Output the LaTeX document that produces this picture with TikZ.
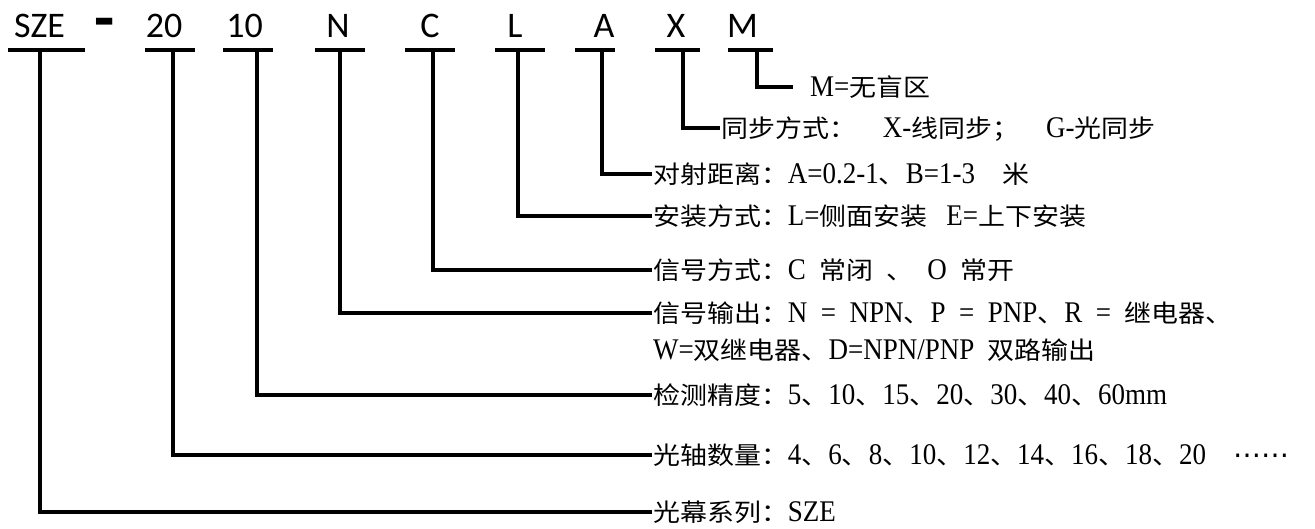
\documentclass[tikz,border=0pt]{standalone}
\usepackage{fontspec}
\newfontfamily\codefont{Carlito}
\newfontfamily\latinfont[FakeStretch=0.9]{Liberation Serif}
\newfontfamily\cjk[FakeStretch=1.1]{Noto Sans CJK SC}
\newfontfamily\dotsfont{DejaVu Sans}
\newcommand\zhtxt[1]{{\cjk\fontsize{24.5}{36}\selectfont#1}}
\newcommand\descfont{\latinfont\fontsize{30}{36}\selectfont\spaceskip=13.5pt\relax}
\begin{document}
\begin{tikzpicture}[x=1pt, y=-1pt,
    code/.style={anchor=base, inner sep=0pt, font=\codefont\fontsize{36}{40}\selectfont},
    bar/.style={fill=black, inner sep=0pt, minimum height=4.5pt},
    desc/.style={anchor=west, inner xsep=1pt, inner ysep=0pt, text height=21.5pt, text depth=3pt, font=\descfont},
    lead/.style={line width=4.5pt},
  ]
    \useasboundingbox[fill=white] (0,0) rectangle (1315,529);

    % Code letters
    \node[code] (c-sze) at (39.5,38) {SZE};
    \node[code, font=\codefont\bfseries\fontsize{66}{66}\selectfont] (c-dash) at (105,41) {-};
    \node[code] (c-20) at (164,38) {20};
    \node[code] (c-10) at (244.5,38) {10};
    \node[code] (c-n) at (338,38) {N};
    \node[code] (c-c) at (430,38) {C};
    \node[code] (c-l) at (515,38) {L};
    \node[code] (c-a) at (604,38) {A};
    \node[code] (c-x) at (676,38) {X};
    \node[code] (c-m) at (742.5,38) {M};

    % Underlines
    \node[bar, minimum width=77pt] (b-sze) at (46.5,50) {};
    \node[bar, minimum width=50pt] (b-20) at (170,50) {};
    \node[bar, minimum width=50pt] (b-10) at (248,50) {};
    \node[bar, minimum width=50pt] (b-n) at (340,50) {};
    \node[bar, minimum width=50pt] (b-c) at (430,50) {};
    \node[bar, minimum width=50pt] (b-l) at (520,50) {};
    \node[bar, minimum width=40pt] (b-a) at (595,50) {};
    \node[bar, minimum width=45pt] (b-x) at (677.5,50) {};
    \node[bar, minimum width=45pt] (b-m) at (750.5,50) {};

    % Descriptions
    \node[desc] (d-m) at (809,87) {M=\zhtxt{无盲区}};
    \node[desc] (d-x) at (720,128) {\zhtxt{同步方式：}\ \ X-\zhtxt{线同步；}\ \ G-\zhtxt{光同步}};
    \node[desc] (d-a) at (652,174) {\zhtxt{对射距离：}A=0.2-1\zhtxt{、}B=1-3\ \ \zhtxt{米}};
    \node[desc] (d-l) at (652,216) {\zhtxt{安装方式：}L=\zhtxt{侧面安装}\hspace{19pt}E=\zhtxt{上下安装}};
    \node[desc] (d-c) at (652,270) {\zhtxt{信号方式：}C \zhtxt{常闭} \zhtxt{、} O \zhtxt{常开}};
    \node[desc] (d-n) at (652,313) {\zhtxt{信号输出：}N = NPN\zhtxt{、}P = PNP\zhtxt{、}R = \zhtxt{继电器、}};
    \node[desc] (d-n2) at (652,350) {W=\zhtxt{双继电器、}D=NPN/PNP \zhtxt{双路输出}};
    \node[desc] (d-10) at (652,395) {\zhtxt{检测精度：}5\zhtxt{、}10\zhtxt{、}15\zhtxt{、}20\zhtxt{、}30\zhtxt{、}40\zhtxt{、}60mm};
    \node[desc] (d-20) at (652,455) {\zhtxt{光轴数量：}4\zhtxt{、}6\zhtxt{、}8\zhtxt{、}10\zhtxt{、}12\zhtxt{、}14\zhtxt{、}16\zhtxt{、}18\zhtxt{、}20\ \ {\dotsfont\fontsize{28}{36}\selectfont ⋯⋯}};
    \node[desc] (d-sze) at (652,512) {\zhtxt{光幕系列：}SZE};

    % Leads
    \coordinate (s-sze) at (40,50);
    \coordinate (s-20) at (173,50);
    \coordinate (s-10) at (257,50);
    \coordinate (s-n) at (340,50);
    \coordinate (s-c) at (433,50);
    \coordinate (s-l) at (518,50);
    \coordinate (s-a) at (602,50);
    \coordinate (s-x) at (683,50);
    \coordinate (s-m) at (757,50);
    \draw[lead] (s-m) |- ([xshift=-16pt]d-m.west);
    \draw[lead] (s-x) |- (d-x.west);
    \draw[lead] (s-a) |- (d-a.west);
    \draw[lead] (s-l) |- (d-l.west);
    \draw[lead] (s-c) |- (d-c.west);
    \draw[lead] (s-n) |- (d-n.west);
    \draw[lead] (s-10) |- (d-10.west);
    \draw[lead] (s-20) |- (d-20.west);
    \draw[lead] (s-sze) |- (d-sze.west);
  \end{tikzpicture}
\end{document}
